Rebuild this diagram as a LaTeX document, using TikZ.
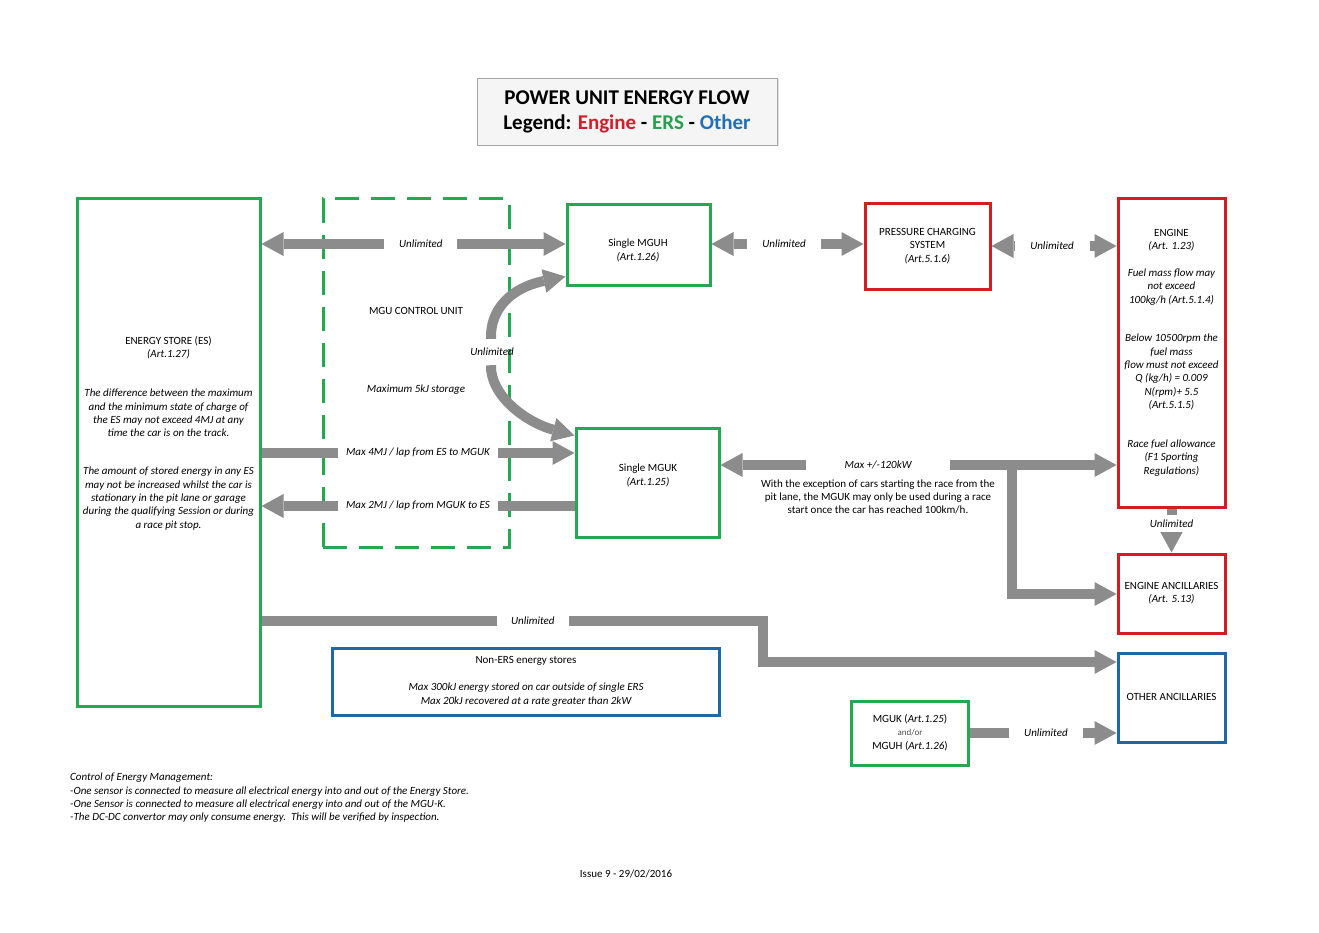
\documentclass[tikz,border=0pt]{standalone}
\usepackage{fontspec}
\setmainfont{Carlito}
\usetikzlibrary{arrows.meta,calc,shadows}
\definecolor{ggreen}{RGB}{36,168,82}
\definecolor{rred}{RGB}{212,28,36}
\definecolor{bblue}{RGB}{28,104,168}
\definecolor{agray}{RGB}{140,140,140}
\definecolor{legred}{RGB}{210,30,40}
\definecolor{leggreen}{RGB}{40,160,80}
\definecolor{legblue}{RGB}{34,112,180}
\tikzset{
  txt/.style={font=\fontsize{11}{13.3}\selectfont, align=center, inner sep=0pt},
  itx/.style={font=\fontsize{11}{13.3}\selectfont\itshape, align=center, inner sep=0pt},
  gbox/.style={draw=ggreen, line width=3pt, rectangle},
  rbox/.style={draw=rred, line width=3pt, rectangle},
  bbox/.style={draw=bblue, line width=3pt, rectangle},
  flow/.style={draw=agray, line width=10pt},
  tipr/.style={-{Triangle[width=24pt,length=22pt,line width=0pt]}},
  tipl/.style={{Triangle[width=24pt,length=22pt,line width=0pt]}-},
  tipb/.style={{Triangle[width=24pt,length=22pt,line width=0pt]}-{Triangle[width=24pt,length=22pt,line width=0pt]}},
  gaplab/.style={itx, fill=white, minimum height=14pt},
}
\begin{document}
\begin{tikzpicture}[x=1pt,y=-1pt]
\useasboundingbox (0,0) rectangle (1319,933);

% title
\node[draw=black!35, line width=0.8pt, fill=black!4, minimum width=300pt, minimum height=67pt,
      drop shadow={shadow xshift=1.5pt, shadow yshift=-1.5pt, fill=black!25},
      font=\fontsize{21}{25}\selectfont\bfseries, align=center] (title) at (627,111.5)
  {POWER UNIT ENERGY FLOW\\Legend: \textcolor{legred}{Engine} - \textcolor{leggreen}{ERS} - \textcolor{legblue}{Other}};

% boxes
\node[gbox, minimum width=183pt, minimum height=507pt] (es) at (168.5,452.5) {};
\node[draw=ggreen, line width=3pt, dash pattern=on 24pt off 12pt, minimum width=186pt, minimum height=348pt] (mgucu) at (416,373) {};
\node[gbox, minimum width=143pt, minimum height=80pt] (mguh) at (638.5,245) {};
\node[rbox, minimum width=125pt, minimum height=85pt] (pcs) at (927.5,246.5) {};
\node[rbox, minimum width=107pt, minimum height=308pt] (engine) at (1171.5,353) {};
\node[gbox, minimum width=143pt, minimum height=109pt] (mguk) at (647.5,482.5) {};
\node[rbox, minimum width=107pt, minimum height=79pt] (engan) at (1171.5,593.5) {};
\node[bbox, minimum width=107pt, minimum height=89pt] (othan) at (1171.5,697.5) {};
\node[bbox, minimum width=387pt, minimum height=67pt] (noners) at (525.5,681.5) {};
\node[gbox, minimum width=117pt, minimum height=64pt] (mgukh) at (909.5,733) {};

% coordinates
\coordinate (jn) at (1012,465);
\coordinate (c1) at (763,621);
\coordinate (c2) at (763,662);

% arrows
\draw[flow, tipb] (es.east |- 0,244) -- node[gaplab, pos=0.524, minimum width=73pt] (l1) {Unlimited} (mguh.west |- 0,244);
\draw[flow, tipb] (mguh.east |- 0,244) -- node[gaplab, pos=0.477, minimum width=74pt] (l2) {Unlimited} (pcs.west |- 0,244);
\draw[flow, tipb] (pcs.east |- 0,246) -- node[gaplab, pos=0.484, minimum width=75pt] (l3) {Unlimited} (engine.west |- 0,246);
\draw[flow, tipr] (es.east |- 0,453) -- node[gaplab, pos=0.5, minimum width=160pt] (l4) {Max 4MJ / lap from ES to MGUK} (mguk.west |- 0,453);
\draw[flow, tipr] (mguk.west |- 0,506) -- node[gaplab, pos=0.5, minimum width=160pt] (l5) {Max 2MJ / lap from MGUK to ES} (es.east |- 0,506);
\draw[flow, tipb] (mguk.east |- 0,465) -- node[gaplab, pos=0.398, minimum width=144pt] (l6) {Max +/-120kW} (engine.west |- 0,465);
\draw[flow, tipr] (jn) |- (engan.west |- 0,594);
\draw[flow, tipr] (engine.south) -- node[gaplab, pos=0.34, minimum height=17pt, minimum width=50pt] (l7) {Unlimited} (engan.north);
\draw[flow, tipr] (es.east |- 0,621) -- node[gaplab, pos=0.541, minimum width=72pt] (l8) {Unlimited} (c1) -- (c2) -- (othan.west |- 0,662);
\draw[flow, tipr] (mgukh.east) -- node[gaplab, pos=0.52, minimum width=74pt] (l9) {Unlimited} (othan.west |- mgukh.east);

% curved arrow
\node[itx, minimum height=26pt] (cu) at (491,352) {\hspace*{2pt}Unlimited};
\draw[flow, tipr] (cu.north) .. controls (490,310) and (510,288) .. ($(mguh.south west)+(0,-10)$);
\draw[flow, tipr] (cu.south) .. controls (490,395) and (525,422) .. ($(mguk.north west)+(0,9)$);

% texts
\node[txt] (esT1) at (168.5,347.5) {ENERGY STORE (ES)\\\textit{(Art.1.27)}};
\node[itx] (esT2) at (168.5,413) {The difference between the maximum\\and the minimum state of charge of\\the ES may not exceed 4MJ at any\\time the car is on the track.};
\node[itx] (esT3) at (168.5,498.5) {The amount of stored energy in any ES\\may not be increased whilst the car is\\stationary in the pit lane or garage\\during the qualifying Session or during\\a race pit stop.};
\node[txt] (cuT1) at (416,311) {MGU CONTROL UNIT};
\node[itx] (cuT2) at (416,390) {Maximum 5kJ storage};
\node[txt] (mguhT) at (638,250.5) {Single MGUH\\\textit{(Art.1.26)}};
\node[txt] (pcsT) at (927.5,246) {PRESSURE CHARGING\\SYSTEM\\\textit{(Art.5.1.6)}};
\node[txt] (engT1) at (1171.5,240.5) {ENGINE\\\textit{(Art. 1.23)}};
\node[itx] (engT2) at (1171.5,287) {Fuel mass flow may\\not exceed\\100kg/h (Art.5.1.4)};
\node[itx] (engT3) at (1171.5,372) {Below 10500rpm the\\fuel mass\\flow must not exceed\\Q (kg/h) = 0.009\\N(rpm)+ 5.5\\(Art.5.1.5)};
\node[itx] (engT4) at (1171.5,458) {Race fuel allowance\\(F1 Sporting\\Regulations)};
\node[txt] (mgukT) at (648,475.5) {Single MGUK\\\textit{(Art.1.25)}};
\node[txt] (mgukT2) at (878,497) {With the exception of cars starting the race from the\\pit lane, the MGUK may only be used during a race\\start once the car has reached 100km/h.};
\node[txt] (enganT) at (1171.5,593.5) {ENGINE ANCILLARIES\\\textit{(Art. 5.13)}};
\node[txt] (othanT) at (1171.5,697) {OTHER ANCILLARIES};
\node[txt] (nonT1) at (526,661) {Non-ERS energy stores};
\node[itx] (nonT2) at (526,694.5) {Max 300kJ energy stored on car outside of single ERS\\Max 20kJ recovered at a rate greater than 2kW};
\node[txt] (mgukhT) at (910,732.5) {MGUK (\textit{Art.1.25})\\{\fontsize{9}{13.3}\selectfont\color{black!70}and/or}\\MGUH (\textit{Art.1.26})};
\node[itx, align=left, anchor=west] (notes) at (70,798) {Control of Energy Management:\\-One sensor is connected to measure all electrical energy into and out of the Energy Store.\\-One Sensor is connected to measure all electrical energy into and out of the MGU-K.\\-The DC-DC convertor may only consume energy.\ \ This will be verified by inspection.};
\node[txt] (issue) at (626,874) {Issue 9 - 29/02/2016};
\end{tikzpicture}
\end{document}
